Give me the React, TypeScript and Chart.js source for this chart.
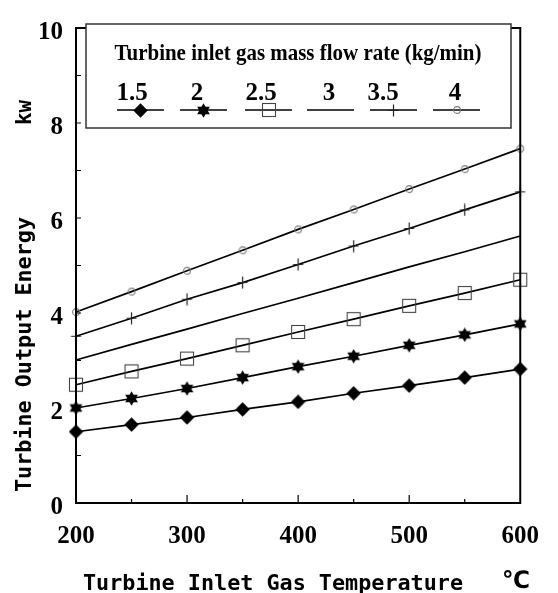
import React, { useEffect, useRef } from 'react';
import { Chart, registerables } from 'chart.js';

Chart.register(...registerables);

// ---- data ----
const temperatures = [200, 250, 300, 350, 400, 450, 500, 550, 600];
const flowRateLabels = ['1.5', '2', '2.5', '3', '3.5', '4'];
const energy15 = [1.5, 1.65, 1.8, 1.97, 2.13, 2.31, 2.47, 2.64, 2.82];
const energy20 = [2.0, 2.2, 2.41, 2.64, 2.87, 3.09, 3.32, 3.54, 3.77];
const energy25 = [2.49, 2.77, 3.04, 3.32, 3.6, 3.87, 4.15, 4.42, 4.7];
const energy30 = [3.01, 3.34, 3.66, 3.99, 4.31, 4.64, 4.97, 5.29, 5.62];
const energy35 = [3.51, 3.89, 4.29, 4.64, 5.02, 5.41, 5.78, 6.17, 6.55];
const energy40 = [4.02, 4.45, 4.89, 5.32, 5.76, 6.18, 6.61, 7.03, 7.46];
const xTicks = [200, 300, 400, 500, 600];
const yTicks = [0, 2, 4, 6, 8, 10];
const xTitle = 'Turbine Inlet Gas Temperature';
const xUnit = '℃';
const yTitle = 'Turbine Output Energy';
const yUnit = 'kw';
const legendTitle = 'Turbine inlet gas mass flow rate (kg/min)';

// ---- marker images ----
function makeCanvas(w: number, h: number, draw: (c: CanvasRenderingContext2D) => void) {
  const cv = document.createElement('canvas');
  cv.width = w;
  cv.height = h;
  const c = cv.getContext('2d')!;
  draw(c);
  return cv;
}

function makeMarkers() {
  const diamond = makeCanvas(15, 15, (c) => {
    c.fillStyle = '#000';
    c.beginPath();
    c.moveTo(7.5, 0.3);
    c.lineTo(14.7, 7.5);
    c.lineTo(7.5, 14.7);
    c.lineTo(0.3, 7.5);
    c.closePath();
    c.fill();
  });
  const star = makeCanvas(15, 15, (c) => {
    c.fillStyle = '#000';
    const r = 7.3;
    for (const off of [-Math.PI / 2, Math.PI / 2]) {
      c.beginPath();
      for (let i = 0; i < 3; i++) {
        const a = off + (i * 2 * Math.PI) / 3;
        const px = 7.5 + r * Math.cos(a);
        const py = 7.5 + r * Math.sin(a);
        if (i === 0) c.moveTo(px, py);
        else c.lineTo(px, py);
      }
      c.closePath();
      c.fill();
    }
  });
  const square = makeCanvas(16, 16, (c) => {
    c.strokeStyle = '#444';
    c.lineWidth = 1.1;
    c.strokeRect(1.5, 1.5, 13, 13);
  });
  const plus = makeCanvas(13, 13, (c) => {
    c.strokeStyle = '#222';
    c.lineWidth = 1.2;
    c.beginPath();
    c.moveTo(6.5, 0.5);
    c.lineTo(6.5, 12.5);
    c.moveTo(1.5, 6.5);
    c.lineTo(11.5, 6.5);
    c.stroke();
  });
  const circle = makeCanvas(10, 10, (c) => {
    c.strokeStyle = '#777';
    c.lineWidth = 1.1;
    c.beginPath();
    c.arc(5, 5, 3.4, 0, Math.PI * 2);
    c.stroke();
  });
  return { diamond, star, square, plus, circle };
}

function fitText(
  ctx: CanvasRenderingContext2D,
  text: string,
  x: number,
  y: number,
  font: string,
  width: number | null,
  align: CanvasTextAlign = 'left',
  rotate = 0
) {
  ctx.save();
  ctx.font = font;
  ctx.textAlign = align;
  ctx.textBaseline = 'alphabetic';
  ctx.fillStyle = '#000';
  const w = ctx.measureText(text).width;
  ctx.translate(x, y);
  if (rotate) ctx.rotate(rotate);
  if (width) ctx.scale(width / w, 1);
  ctx.fillText(text, 0, 0);
  ctx.restore();
}

export default function App() {
  const ref = useRef<HTMLCanvasElement>(null);

  useEffect(() => {
    const canvas = ref.current!;
    const m = makeMarkers();
    const seriesValues = [energy15, energy20, energy25, energy30, energy35, energy40];
    const styles: any[] = [m.diamond, m.star, m.square, null, m.plus, m.circle];

    const datasets = seriesValues.map((vals, i) => ({
      label: flowRateLabels[i],
      data: temperatures.map((t, j) => ({ x: t, y: vals[j] })),
      borderColor: '#000',
      backgroundColor: '#000',
      borderWidth: 1.7,
      pointStyle: styles[i] || 'circle',
      pointRadius: styles[i] ? 6 : 0,
      pointHoverRadius: styles[i] ? 6 : 0,
      tension: 0,
      clip: false as any,
    }));

    const decor = {
      id: 'decor',
      afterDraw(chart: any) {
        const ctx: CanvasRenderingContext2D = chart.ctx;
        const a = chart.chartArea;
        const xs = chart.scales.x;
        const ys = chart.scales.y;
        ctx.save();
        // frame
        ctx.strokeStyle = '#000';
        ctx.lineWidth = 2;
        ctx.strokeRect(a.left, a.top, a.right - a.left, a.bottom - a.top);
        // minor ticks
        ctx.lineWidth = 1.2;
        ctx.beginPath();
        for (let v = yTicks[0] + 1; v < yTicks[yTicks.length - 1]; v++) {
          const py = ys.getPixelForValue(v);
          ctx.moveTo(a.left, py);
          ctx.lineTo(a.left + 5, py);
        }
        for (let v = xTicks[0] + 50; v < xTicks[xTicks.length - 1]; v += 50) {
          const px = xs.getPixelForValue(v);
          const len = v % 100 === 0 ? 8 : 4;
          ctx.moveTo(px, a.bottom);
          ctx.lineTo(px, a.bottom - len);
        }
        ctx.stroke();

        // legend box
        ctx.fillStyle = '#fff';
        ctx.fillRect(86, 24, 425, 104);
        ctx.strokeStyle = '#333';
        ctx.lineWidth = 1.5;
        ctx.strokeRect(86, 24, 425, 104);
        fitText(ctx, legendTitle, 298, 60, 'bold 23px "Liberation Serif"', 367, 'center');
        const labelX = [132, 197, 261, 329, 383, 455];
        const segStart = [117, 180, 245, 307, 370, 433];
        flowRateLabels.forEach((lab, i) => {
          fitText(ctx, lab, labelX[i], 100, 'bold 25px "Liberation Serif"', null, 'center');
          ctx.strokeStyle = '#000';
          ctx.lineWidth = 1.5;
          ctx.beginPath();
          ctx.moveTo(segStart[i], 110);
          ctx.lineTo(segStart[i] + 47, 110);
          ctx.stroke();
          const st = styles[i];
          if (st) {
            const cx = segStart[i] + 23.5;
            ctx.drawImage(st, Math.round(cx - st.width / 2), Math.round(110 - st.height / 2));
          }
        });

        // axis titles
        const tf = 'bold 22px "DejaVu Sans Mono"';
        fitText(ctx, xTitle, 83, 590, tf, 380, 'left');
        fitText(ctx, xUnit, 502, 588, 'bold 24px "DejaVu Sans"', 28, 'left');
        fitText(ctx, yTitle, 31, 492, tf, 275, 'left', -Math.PI / 2);
        fitText(ctx, yUnit, 31, 125, tf, 25, 'left', -Math.PI / 2);
        ctx.restore();
      },
    };

    const chart = new Chart(canvas, {
      type: 'line',
      data: { datasets },
      options: {
        responsive: false,
        animation: false,
        devicePixelRatio: 1,
        layout: { padding: { left: 0, top: 19, right: 27, bottom: 0 } },
        plugins: { legend: { display: false }, tooltip: { enabled: false } },
        scales: {
          x: {
            type: 'linear',
            min: xTicks[0],
            max: xTicks[xTicks.length - 1],
            afterBuildTicks: (s: any) => {
              s.ticks = xTicks.map((v) => ({ value: v }));
            },
            afterFit: (s: any) => {
              s.height = 90;
            },
            grid: { display: false, drawTicks: false, tickLength: 0 },
            border: { display: false },
            ticks: {
              color: '#000',
              padding: 19,
              maxRotation: 0,
              font: { family: 'Liberation Serif', weight: 'bold', size: 25 },
            },
          },
          y: {
            type: 'linear',
            min: yTicks[0],
            max: yTicks[yTicks.length - 1],
            afterBuildTicks: (s: any) => {
              s.ticks = yTicks.map((v) => ({ value: v }));
            },
            afterFit: (s: any) => {
              s.width = 76;
            },
            grid: { display: false, drawTicks: false, tickLength: 0 },
            border: { display: false },
            ticks: {
              color: '#000',
              padding: 13,
              labelOffset: 5,
              font: { family: 'Liberation Serif', weight: 'bold', size: 25 },
            },
          },
        },
      },
      plugins: [decor],
    } as any);

    return () => chart.destroy();
  }, []);

  return (
    <div style={{ position: 'fixed', left: 0, top: 0, width: 558, height: 593, background: '#fff' }}>
      <canvas ref={ref} width={558} height={593} style={{ width: 558, height: 593, display: 'block' }} />
    </div>
  );
}
